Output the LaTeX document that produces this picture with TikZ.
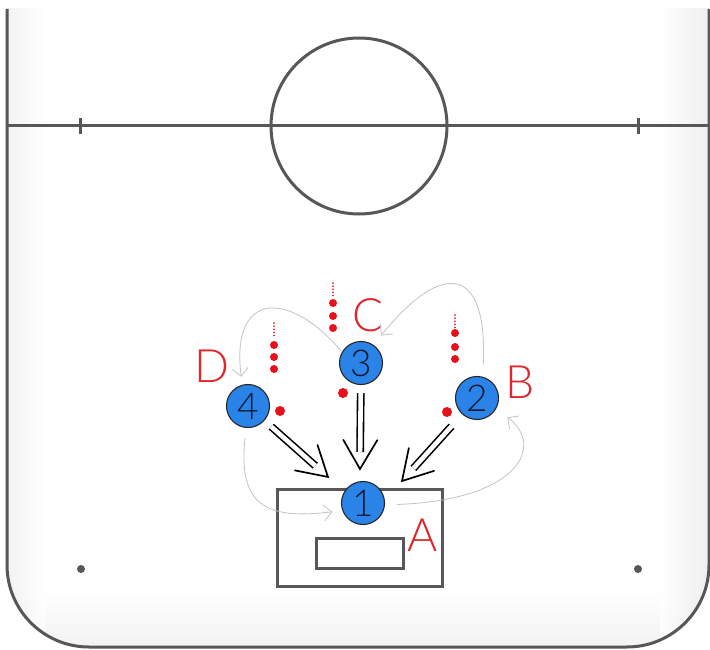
\documentclass[tikz,border=0pt]{standalone}
\usepackage{fontspec}
\setmainfont{Liberation Sans}
\newfontfamily\hand{Lato Light}
\usetikzlibrary{arrows.meta,decorations.markings,calc}
\definecolor{rinkc}{HTML}{575757}
\definecolor{pblue}{HTML}{2A84E8}
\definecolor{digit}{HTML}{0F1A33}
\definecolor{lred}{HTML}{E0262B}
\definecolor{rdotc}{HTML}{E8101A}
\definecolor{gline}{HTML}{C4C4C4}
\tikzset{
 rink/.style={draw=rinkc, line width=3pt},
 player/.style={circle, draw=black!85, line width=1.1pt, fill=pblue, minimum size=43pt, inner sep=0pt, text=digit, font=\hand\fontsize{37}{37}\selectfont},
 lbl/.style={text=lred, font=\hand\fontsize{46}{46}\selectfont, inner sep=0pt},
 rdot/.style={circle, fill=rdotc, minimum size=10pt, inner sep=0pt},
 sdot/.style={circle, fill=rdotc, minimum size=8pt, inner sep=0pt},
 trail/.style={draw=rdotc, line width=1.6pt, dash pattern=on 0.1pt off 3pt, line cap=round},
 run/.style={draw=gline, line width=0.8pt, -{Straight Barb[length=8pt,width=16pt,line width=0.8pt]}},
 dbl/.style={draw=black, line width=1.6pt, double=white, double distance=4.6pt},
 vhead/.style={decoration={markings, mark=at position 1 with {\draw[black, line width=1.7pt, line join=miter, line cap=round] (-29pt,17pt) -- (0pt,0pt) -- (-29pt,-17pt);}}, decorate},
}
\begin{document}
\begin{tikzpicture}[x=1pt,y=-1pt]
\useasboundingbox (0,0) rectangle (710,650);
\fill[white] (0,0) rectangle (710,650);
% soft grey shading inside the rink edges
\begin{scope}
\clip[rounded corners=82pt] (7,-300) -- (7,647) -- (709,647) -- (709,-300) -- cycle;
\shade[top color=white, bottom color=black!5] (0,590) rectangle (710,647);
\shade[left color=black!6, right color=white, opacity=0.8] (7,9) rectangle (45,650);
\shade[left color=white, right color=black!8, opacity=0.8] (660,9) rectangle (709,650);
\end{scope}
% rink
\draw[rink, rounded corners=82pt] (7,9) -- (7,647) -- (709,647) -- (709,9);
\draw[rink] (7,126) -- (709,126);
\draw[rink] (359,126) circle (88);
\draw[rink] (80,118) -- (80,134);
\draw[rink] (638,118) -- (638,134);
\fill[rinkc] (81,569) circle (4);
\fill[rinkc] (638,569) circle (4);
% goal
\draw[rink] (277,489) rectangle (442,586);
\draw[rink] (316,538) rectangle (403,568);
% players
\node[player] (p1) at (363,503) {1};
\node[player] (p2) at (477,398) {2};
\node[player] (p3) at (361,363) {3};
\node[player] (p4) at (248,406) {4};
% labels
\node[lbl] (lA) at (423,535) {A};
\node[lbl] (lB) at (520,382) {B};
\node[lbl] (lC) at (368,315) {C};
\node[lbl] (lD) at (212,366) {D};
% pucks
\node[rdot] (d4) at (280,411) {};
\node[rdot] (d3) at (343,393) {};
\node[rdot] (d2) at (447,412) {};
% trails
\node[sdot] (a4) at (274,345) {};
\node[sdot] (b4) at (274,357) {};
\node[sdot] (c4) at (274,369) {};
\draw[trail] (274,323) -- (274,338);
\node[sdot] (a3) at (333,303) {};
\node[sdot] (b3) at (333,316) {};
\node[sdot] (c3) at (333,328) {};
\draw[trail] (333,283) -- (333,298);
\node[sdot] (a2) at (455,333) {};
\node[sdot] (b2) at (455,347) {};
\node[sdot] (c2) at (455,359) {};
\draw[trail] (455,315) -- (455,328);
% double arrows to 1
\coordinate (t4) at (328,477);
\coordinate (t3) at (360,469);
\coordinate (t2) at (402,481);
\draw[dbl, shorten <=9pt, shorten >=17pt] (p4) -- (t4);
\path[vhead] (p4) -- (t4);
\draw[dbl, shorten <=8pt, shorten >=17pt] (p3) -- (t3);
\path[vhead] (p3) -- (t3);
\draw[dbl, shorten <=16pt, shorten >=17pt] (p2) -- (t2);
\path[vhead] (p2) -- (t2);
% grey runs
\draw[run, shorten <=1pt, shorten >=8pt] (p3.150) .. controls (290,290) and (230,290) .. (p4.105);
\draw[run, shorten <=12pt, shorten >=12pt] (p2.75) .. controls (488,262) and (440,262) .. (p3.55);
\draw[run, shorten <=10pt, shorten >=10pt] (p4.265) .. controls (238,505) and (265,520) .. (p1.200);
\draw[run, shorten <=12pt, shorten >=14pt] (p1.355) .. controls (520,500) and (545,445) .. (p2.330);
\end{tikzpicture}
\end{document}
